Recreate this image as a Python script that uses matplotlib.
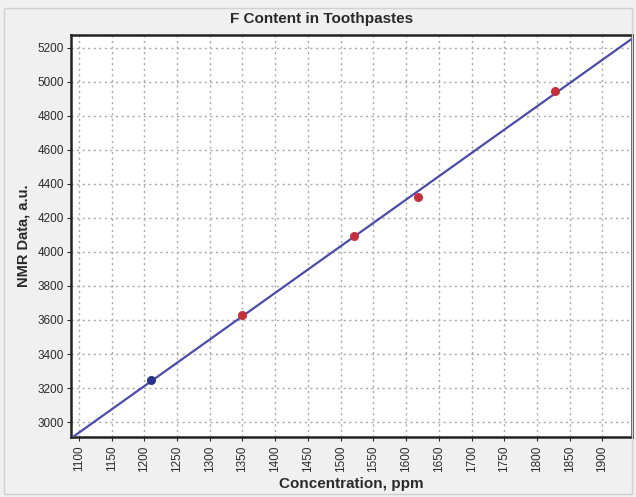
import matplotlib
matplotlib.use("Agg")
import matplotlib.pyplot as plt
from matplotlib.patches import Rectangle
import numpy as np

plt.rcParams["font.family"] = ["Liberation Sans", "DejaVu Sans"]

# Datos
conc_blue = [1211]
nmr_blue = [3245]
conc_red = [1350, 1521, 1618, 1827]
nmr_red = [3630, 4094, 4325, 4948]

x_ticks = list(range(1100, 1901, 50))
y_ticks = list(range(3000, 5201, 200))

fig = plt.figure(figsize=(6.36, 4.97), dpi=100)
fig.patch.set_facecolor("#f0f0f0")
fig.patches.append(Rectangle((0.006, 0.006), 0.988, 0.978, transform=fig.transFigure,
                             fill=False, edgecolor="#d0d0d0", linewidth=1))

ax = fig.add_axes([0.1116, 0.1207, 0.882, 0.809])
ax.set_facecolor("white")

# Recta de ajuste
all_x = np.array(conc_blue + conc_red)
all_y = np.array(nmr_blue + nmr_red)
slope, intercept = np.polyfit(all_x, all_y, 1)
xl = np.array([1000, 2000])
ax.plot(xl, slope * xl + intercept, color="#4b4bab", linewidth=1.6, zorder=3)

ax.scatter(conc_blue, nmr_blue, s=30, color="#27328a", zorder=4)
ax.scatter(conc_red, nmr_red, s=30, color="#c3303e", zorder=4)

ax.set_xlim(1088, 1945)
ax.set_ylim(2912, 5276)
ax.set_xticks(x_ticks)
ax.set_yticks(y_ticks)
ax.tick_params(axis="x", labelrotation=90, labelsize=8.5, colors="#2a2a2a", length=3, pad=3)
ax.tick_params(axis="y", labelsize=8.5, colors="#2a2a2a", length=3, pad=2)
ax.grid(True, linestyle=(0, (1.5, 2.5)), color="#a8a8a8", linewidth=1.0)

for sp in ax.spines.values():
    sp.set_linewidth(1.8)
    sp.set_color("#222222")

fig.text(0.505, 0.962, "F Content in Toothpastes", fontsize=11, fontweight="bold",
         color="#2a2a2a", ha="center", va="center")
ax.set_xlabel("Concentration, ppm", fontsize=11, fontweight="bold", color="#2a2a2a", labelpad=4)
ax.set_ylabel("NMR Data, a.u.", fontsize=10.5, fontweight="bold", color="#2a2a2a", labelpad=5)

fig.savefig("out.png", dpi=100, facecolor=fig.get_facecolor())
